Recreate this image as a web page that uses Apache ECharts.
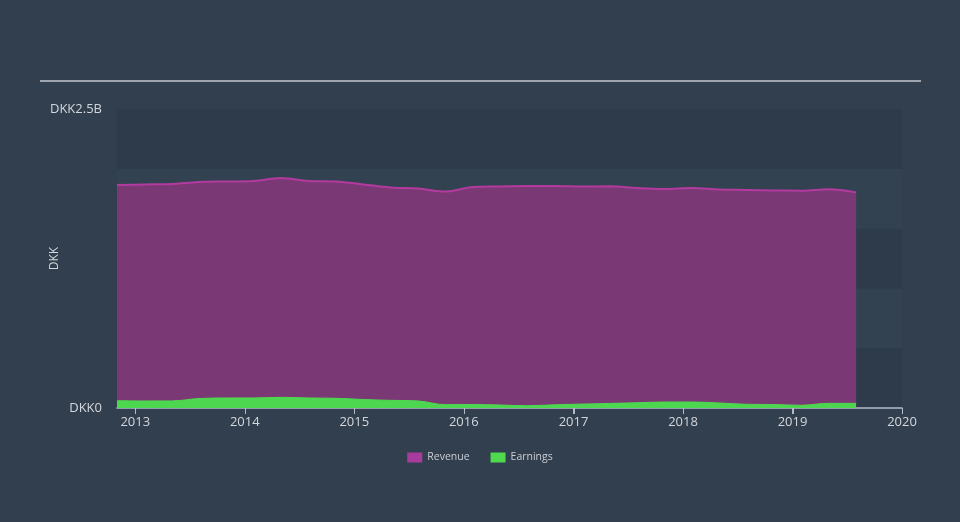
<!DOCTYPE html>
<html>
<head>
<meta charset="utf-8">
<script src="https://cdn.jsdelivr.net/npm/echarts@6/dist/echarts.min.js"></script>
<style>
html,body{margin:0;padding:0;background:#323f4e;}
#chart{width:960px;height:522px;}
</style>
</head>
<body>
<div id="chart"></div>
<script>
var dates = ['2012-11-01','2013-02-01','2013-05-01','2013-08-01','2013-11-01','2014-02-01','2014-05-01','2014-08-01','2014-11-01','2015-02-01','2015-05-01','2015-08-01','2015-11-01','2016-02-01','2016-05-01','2016-08-01','2016-11-01','2017-02-01','2017-05-01','2017-08-01','2017-11-01','2018-02-01','2018-05-01','2018-08-01','2018-11-01','2019-02-01','2019-05-01','2019-08-01'];
var revenue = [1.865,1.869,1.873,1.890,1.894,1.898,1.923,1.898,1.894,1.869,1.844,1.835,1.810,1.848,1.852,1.856,1.856,1.852,1.854,1.839,1.831,1.839,1.827,1.823,1.819,1.817,1.829,1.803];
var earnings = [0.061,0.059,0.059,0.079,0.084,0.084,0.089,0.084,0.081,0.071,0.064,0.059,0.028,0.029,0.025,0.019,0.027,0.033,0.038,0.044,0.050,0.050,0.042,0.031,0.029,0.023,0.039,0.039];
var yearTicks = ['2013','2014','2015','2016','2017','2018','2019','2020'];
var yTickLabels = {0:'DKK0', 2.5:'DKK2.5B'};

function ts(s){ return new Date(s + 'T00:00:00Z').getTime(); }
var tickVals = yearTicks.map(function(y){ return ts(y + '-01-01'); });
var revData = dates.map(function(d,i){ return [ts(d), revenue[i]*1e9]; });
var earnData = dates.map(function(d,i){ return [ts(d), earnings[i]*1e9]; });

var chart = echarts.init(document.getElementById('chart'), null, {renderer:'canvas'});
var font = 'Open Sans';
chart.setOption({
  backgroundColor:'#323f4e',
  animation:false,
  textStyle:{fontFamily:font},
  grid:{left:117, right:58, top:109, bottom:114, containLabel:false},
  graphic:[{id:'topline', type:'line', shape:{x1:40,y1:81,x2:921,y2:81}, style:{stroke:'#c3c9cf', lineWidth:1.5}}],
  legend:{
    bottom:54, left:'center', itemWidth:15, itemHeight:10, itemGap:21, icon:'rect',
    textStyle:{color:'#c9ced4', fontSize:10.5, fontFamily:font},
    data:['Revenue','Earnings']
  },
  xAxis:{
    type:'value', min:ts(dates[0]), max:tickVals[tickVals.length-1],
    axisLine:{show:true, onZero:false, lineStyle:{color:'#b4bcc6', width:1.5}},
    axisTick:{show:true, inside:false, length:6, customValues:tickVals, lineStyle:{color:'#b4bcc6', width:1}},
    axisLabel:{show:true, customValues:tickVals, color:'#d3d7dc', fontSize:13, margin:8,
      formatter:function(v){ return String(new Date(v).getUTCFullYear()); }},
    splitLine:{show:false}
  },
  yAxis:{
    type:'value', min:0, max:2.5e9, interval:0.5e9,
    name:'DKK', nameLocation:'middle', nameGap:56, nameRotate:90, nameMoveOverlap:false,
    nameTextStyle:{color:'#d3d7dc', fontSize:12, fontFamily:font},
    axisLine:{show:false}, axisTick:{show:false},
    axisLabel:{color:'#d3d7dc', fontSize:13, margin:15,
      formatter:function(v){ var k = Math.round(v/1e8)/10; return yTickLabels[k] !== undefined ? yTickLabels[k] : ''; }},
    splitLine:{show:false},
    splitArea:{show:true, areaStyle:{color:['#2e3b4a','#334251']}}
  },
  series:[
    {name:'Revenue', type:'line', data:revData, smooth:0.35, symbol:'none',
     lineStyle:{color:'#b33a9e', width:2}, itemStyle:{color:'#a83c9c'},
     areaStyle:{color:'#7a3975', opacity:1}, z:2},
    {name:'Earnings', type:'line', data:earnData, smooth:0.35, symbol:'none',
     lineStyle:{color:'#4fd94f', width:1}, itemStyle:{color:'#4fd94f'},
     areaStyle:{color:'#4dd64f', opacity:1}, z:3}
  ]
});
try {
  var tickGraphics = tickVals.map(function(v, i){
    var p = chart.convertToPixel({gridIndex:0}, [v, 0]);
    var x = Math.round(p[0]) + 0.5;
    return {id:'tick'+i, type:'line', z:100, silent:true,
      shape:{x1:x, y1:p[1], x2:x, y2:p[1] + 6},
      style:{stroke:'#b4bcc6', lineWidth:1}};
  });
  chart.setOption({graphic: tickGraphics});
} catch (e) {}
</script>
</body>
</html>
